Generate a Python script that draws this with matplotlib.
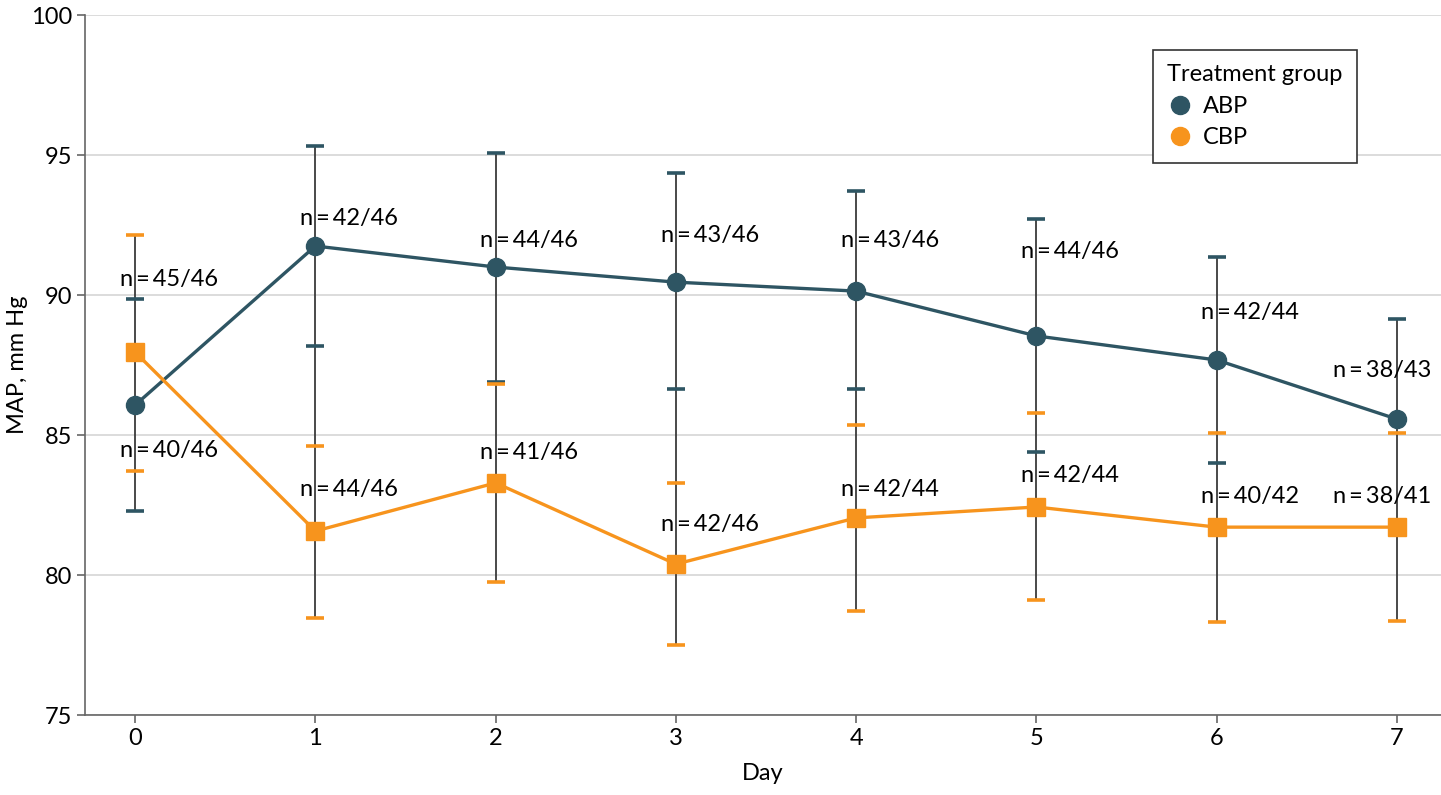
import numpy as np
import matplotlib.pyplot as plt
from matplotlib.lines import Line2D

plt.rcParams['font.family'] = ['Lato', 'DejaVu Sans']

# Dados
days = [0, 1, 2, 3, 4, 5, 6, 7]
abp_mean = [86.07, 91.75, 91.00, 90.46, 90.14, 88.54, 87.68, 85.57]
abp_low = [82.29, 88.18, 86.89, 86.64, 86.64, 84.39, 84.00, 81.75]
abp_high = [89.86, 95.32, 95.07, 94.36, 93.71, 92.71, 91.36, 89.14]
abp_n = ['n=45/46', 'n=42/46', 'n=44/46', 'n=43/46', 'n=43/46', 'n=44/46', 'n=42/44', 'n=38/43']

cbp_mean = [87.96, 81.57, 83.29, 80.39, 82.04, 82.43, 81.71, 81.71]
cbp_low = [83.71, 78.46, 79.75, 77.50, 78.71, 79.11, 78.32, 78.36]
cbp_high = [92.14, 84.61, 86.82, 83.29, 85.36, 85.79, 85.07, 85.07]
cbp_n = ['n=40/46', 'n=44/46', 'n=41/46', 'n=42/46', 'n=42/44', 'n=42/44', 'n=40/42', 'n=38/41']

# posicao dos rotulos n (y em mm Hg)
abp_lab_y = [90.54, 92.75, 91.96, 92.14, 91.96, 91.54, 89.39, 87.32]
cbp_lab_y = [84.46, 83.07, 84.39, 81.79, 83.07, 83.54, 82.79, 82.79]

c_abp = '#2E5563'
c_cbp = '#F7941D'
fs = 17

fig = plt.figure(figsize=(14.41, 7.95), dpi=100)
ax = fig.add_axes([0.059, 0.1006, 0.941, 0.8805])

# barras de erro
lo = np.minimum(abp_low, cbp_low)
hi = np.maximum(abp_high, cbp_high)
ax.vlines(days, lo, hi, color='#3a3a3a', lw=1.3, zorder=2)
ax.plot(days, abp_high, ls='none', marker='_', ms=13, mew=2.6, color=c_abp, zorder=3)
ax.plot(days, abp_low, ls='none', marker='_', ms=13, mew=2.6, color=c_abp, zorder=3)
ax.plot(days, cbp_high, ls='none', marker='_', ms=13, mew=2.6, color=c_cbp, zorder=3)
ax.plot(days, cbp_low, ls='none', marker='_', ms=13, mew=2.6, color=c_cbp, zorder=3)

ax.plot(days, abp_mean, color=c_abp, lw=2.4, marker='o', ms=13, zorder=4)
ax.plot(days, cbp_mean, color=c_cbp, lw=2.4, marker='s', ms=12.5, zorder=4)

for i, d in enumerate(days):
    if d == 7:
        ax.text(d + 0.19, abp_lab_y[i], abp_n[i].replace('=', '\u2009=\u2009'), ha='right', va='center', fontsize=fs, zorder=5)
        ax.text(d + 0.19, cbp_lab_y[i], cbp_n[i].replace('=', '\u2009=\u2009'), ha='right', va='center', fontsize=fs, zorder=5)
    else:
        ax.text(d - 0.085, abp_lab_y[i], abp_n[i].replace('=', '\u2009=\u2009'), ha='left', va='center', fontsize=fs, zorder=5)
        ax.text(d - 0.085, cbp_lab_y[i], cbp_n[i].replace('=', '\u2009=\u2009'), ha='left', va='center', fontsize=fs, zorder=5)

ax.set_xlim(-0.278, 7.245)
ax.set_ylim(75, 100)
ax.set_xticks(days)
ax.set_yticks([75, 80, 85, 90, 95, 100])
ax.tick_params(labelsize=fs, length=6, color='#666666', width=1.2)
ax.yaxis.grid(True, color='#d9d9d9', lw=1.3)
ax.set_axisbelow(True)
for s in ['top', 'right']:
    ax.spines[s].set_visible(False)
for s in ['left', 'bottom']:
    ax.spines[s].set_color('#666666')
    ax.spines[s].set_linewidth(1.2)
ax.set_xlabel('Day', fontsize=fs, labelpad=10)
ax.set_ylabel('MAP, mm Hg', fontsize=fs, labelpad=2)

handles = [Line2D([], [], ls='none', marker='o', ms=13, color=c_abp),
           Line2D([], [], ls='none', marker='o', ms=13, color=c_cbp)]
leg = ax.legend(handles, ['ABP', 'CBP'], title='Treatment group', loc='upper right',
                bbox_to_anchor=(0.938, 0.95), borderaxespad=0, fontsize=fs, title_fontsize=fs,
                fancybox=False, edgecolor='#333333', framealpha=1,
                handletextpad=0.4, handlelength=1.1, borderpad=0.6, labelspacing=0.45)
leg._legend_box.align = 'left'
leg.get_frame().set_linewidth(1.2)

plt.savefig('out.png', dpi=100)
